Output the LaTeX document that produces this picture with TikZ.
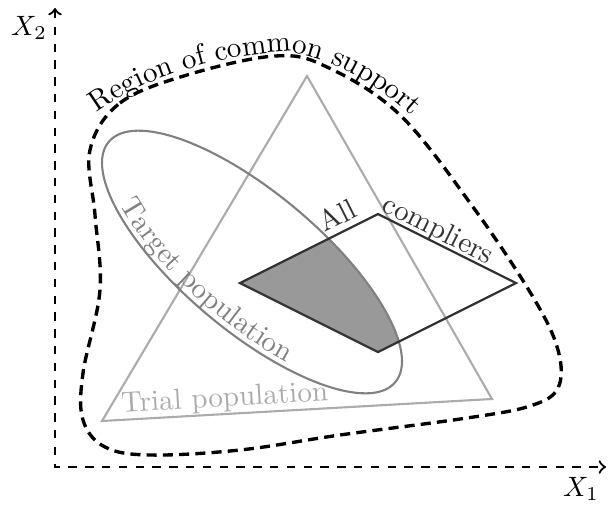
\documentclass[tikz,border=0pt]{standalone}
\usepackage{fontspec}
\usetikzlibrary{decorations.text}
\definecolor{trigray}{gray}{0.67}
\definecolor{ellgray}{gray}{0.5}
\definecolor{pardark}{gray}{0.2}
\definecolor{fillgray}{gray}{0.6}
\begin{document}
\fontsize{10.4}{12.5}\selectfont
\begin{tikzpicture}[x=0.3571pt, y=-0.3571pt,
  axisline/.style={line width=0.8pt, dash pattern=on 3pt off 3pt, <->},
  supp/.style={line width=1.2pt, dash pattern=on 3.6pt off 2.2pt},
  tri/.style={line width=0.75pt, draw=trigray},
  ell/.style={line width=0.75pt, draw=ellgray},
  para/.style={line width=0.8pt, draw=pardark, line join=miter},
  lbl/.style={inner sep=0pt, anchor=base}]
\useasboundingbox (0,0) rectangle (608,504);
% axes
\coordinate (O) at (55,467);
\coordinate (Ytop) at (55,8);
\coordinate (Xend) at (606,467);
\draw[axisline] (Ytop) -- (O) -- (Xend);
\node (x2) at (29,28) {$X_2$};
\node (x1) at (581,489) {$X_1$};
% triangle
\coordinate (T1) at (307,76);
\coordinate (T2) at (102,421);
\coordinate (T3) at (492,399);
% parallelogram
\coordinate (P1) at (240,283);
\coordinate (P2) at (378,214);
\coordinate (P3) at (516,283);
\coordinate (P4) at (378,352);
\coordinate (C) at (252,262);
\begin{scope}
  \clip (P1) -- (P2) -- (P3) -- (P4) -- cycle;
  \fill[fillgray, rotate around={-40:(C)}] (C) ellipse [x radius=187, y radius=69];
\end{scope}
\draw[tri] (T1) -- (T2) -- (T3) -- cycle;
\draw[ell, rotate around={-40:(C)}] (C) ellipse [x radius=187, y radius=69];
\draw[para] (P1) -- (P2) -- (P3) -- (P4) -- cycle;
% region of common support
\draw[supp] plot[smooth cycle, tension=0.6] coordinates {(90,150) (120,103) (187,75) (275,56) (327,67) (400,115) (473,207) (533,297) (558,350) (558,388) (530,406) (467,418) (340,435) (240,450) (150,455) (105,447) (83,420) (83,373) (100,290) (95,215)};
\coordinate (R0) at (97,113);
\coordinate (R1) at (280,52);
\coordinate (R2) at (450,155);
\path[decorate, decoration={text along path, text={Region of common support}}]
  (R0) .. controls (148,75) and (220,56) .. (R1) .. controls (333,53) and (400,96) .. (R2);
% target population text
\path[decorate, decoration={text along path, text={Target population}, text color=ellgray, text align=right}]
  plot[domain=142:60, samples=50, variable=\t] ({252 + 181*cos(\t)*0.766 - 63*sin(\t)*0.643}, {262 + 181*cos(\t)*0.643 + 63*sin(\t)*0.766});
% labels
\node[lbl, text=trigray, rotate=3.2] (trial) at (225,406.5) {Trial population};
\node[lbl, text=pardark, rotate=26.57] (all) at (341.8,224.3) {All};
\node[lbl, text=pardark, rotate=-26.57] (comp) at (434.5,237.5) {compliers};
\end{tikzpicture}
\end{document}
